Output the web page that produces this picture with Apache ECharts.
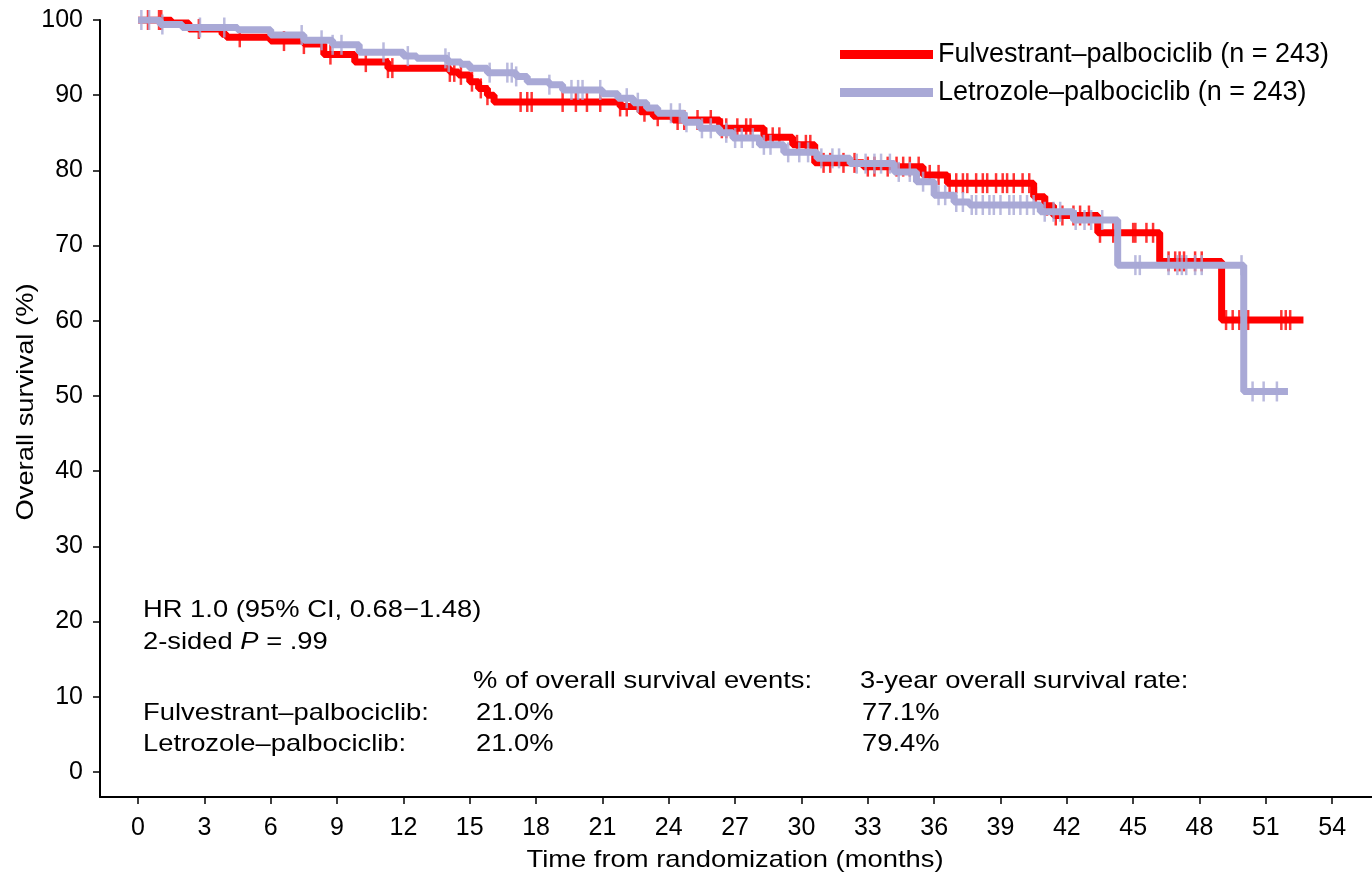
<!DOCTYPE html>
<html><head><meta charset="utf-8">
<script src="https://cdn.jsdelivr.net/npm/echarts@6/dist/echarts.min.js"></script>
<style>html,body{margin:0;padding:0;background:#fff}#c{width:1372px;height:884px}</style>
</head><body><div id="c"></div>
<script>
// ---- data ----
const xTicks = [0,3,6,9,12,15,18,21,24,27,30,33,36,39,42,45,48,51,54];
const yTicks = [0,10,20,30,40,50,60,70,80,90,100];
const fulName = 'Fulvestrant\u2013palbociclib (n = 243)';
const letName = 'Letrozole\u2013palbociclib (n = 243)';
// Kaplan-Meier steps (time in months, survival %)
const fulTimes = [0,1.5,2.3,3.8,4.0,6.0,7.5,8.4,9.8,11.3,14.1,14.5,15.0,15.4,15.8,16.1,21.8,22.7,23.3,24.2,26.3,28.3,29.6,30.6,32.8,35.5,36.6,40.5,41.0,41.4,43.4,46.2,49.0,52.7];
const fulSurv  = [100,99.6,98.8,98.1,97.7,97.2,96.8,95.4,94.4,93.6,93.1,92.7,91.8,90.9,90.0,89.1,88.5,87.8,87.2,86.7,85.6,84.4,83.4,81.0,80.5,79.4,78.3,76.5,75.3,74.0,71.7,67.9,60.1,60.1];
const letTimes = [0,1.0,2.0,4.5,6.0,7.5,8.8,10.0,12.0,12.6,14.0,14.6,15.0,15.8,17.1,17.6,18.6,19.2,21.0,21.7,22.4,23.0,23.5,24.7,25.4,26.3,26.9,28.1,29.2,30.7,32.2,34.2,35.2,36.0,36.9,37.6,40.8,42.3,44.3,50.0,52.0];
const letSurv  = [100,99.4,99.0,98.7,98.0,97.3,96.7,95.7,95.2,94.9,94.4,94.1,93.6,93.0,92.5,91.8,91.4,90.7,90.2,89.6,89.0,88.3,87.6,86.4,85.6,85.0,84.3,83.4,82.4,81.6,80.9,79.8,78.5,76.7,75.8,75.4,74.5,73.4,67.4,50.6,50.6];
// censoring times (months)
const fulCensor = [0.45,0.95,1.05,2.75,4.6,6.6,7.5,8.7,10.3,11.3,11.5,14.1,14.3,14.6,15.1,15.5,15.8,17.3,17.6,17.8,19.2,19.8,20.3,20.9,21.8,22.1,22.9,23.5,24.4,24.7,25.3,25.9,26.4,26.6,27.1,27.5,27.7,28.4,28.7,29.0,29.8,30.2,30.4,31.0,31.3,31.9,32.4,33.0,33.3,33.9,34.3,34.6,34.9,35.3,35.8,36.2,36.7,37.0,37.3,37.5,37.9,38.2,38.4,38.8,39.1,39.3,39.6,40.0,40.3,40.6,41.1,41.5,41.8,42.3,42.6,43.0,43.5,44.1,45.0,45.1,45.6,45.9,46.6,46.9,47.1,47.3,47.8,48.1,49.2,49.5,49.8,50.2,51.7,51.9,52.1];
const letCensor = [0.15,0.5,1.1,2.8,3.9,7.4,8.3,8.8,9.2,11.1,12.2,13.9,14.05,15.9,16.7,16.9,17.1,18.6,19.6,19.9,20.1,20.9,22.1,22.6,24.1,24.5,24.8,25.5,25.9,26.6,27.0,27.3,27.8,28.3,28.6,29.4,29.9,30.3,30.9,31.4,31.7,32.5,32.9,33.3,33.6,34.0,34.4,34.9,35.5,36.2,36.5,37.0,37.3,37.7,37.9,38.2,38.5,38.7,39.0,39.4,39.6,39.9,40.2,40.5,41.0,41.4,41.7,42.4,42.8,43.1,43.6,45.1,45.3,46.6,47.0,47.2,47.4,47.8,48.1,49.9,50.4,50.9,51.5];

// ---- helpers ----
function survAt(times, surv, t){ let v = surv[0]; for (let i=0;i<times.length;i++){ if (times[i] <= t) v = surv[i]; } return v; }
const FONT = "'Liberation Sans', Arial, Helvetica, sans-serif";
const RED = '#ff0000', LAV = '#a9a9d6';
const SX = 1.14;
function txt(x, y, text, extra){
  return Object.assign({ type:'text', x:x, y:y, scaleX:SX, silent:true,
    style:{ text:text, x:0, y:0, fill:'#000', font:'24px ' + FONT, textAlign:'left', textVerticalAlign:'middle', align:'left', verticalAlign:'middle' } }, extra||{});
}

const chart = echarts.init(document.getElementById('c'), null, {renderer:'canvas'});
chart.setOption({
  animation:false,
  backgroundColor:'#fff',
  grid:{ left:100, right:0, top:20, bottom:87, containLabel:false },
  xAxis:{ type:'value', min:-1.72, max:55.8,
    axisLine:{ show:true, onZero:false, lineStyle:{ color:'#000', width:2 } },
    axisTick:{ show:true, length:7, lineStyle:{ color:'#000', width:1.5 }, customValues:xTicks },
    axisLabel:{ customValues:xTicks, fontSize:25, fontFamily:FONT, color:'#000', margin:19 },
    splitLine:{ show:false } },
  yAxis:{ type:'value', min:-3.33, max:100,
    axisLine:{ show:true, onZero:false, lineStyle:{ color:'#000', width:2 } },
    axisTick:{ show:true, length:7, lineStyle:{ color:'#000', width:1.5 }, customValues:yTicks },
    axisLabel:{ customValues:yTicks, fontSize:25, fontFamily:FONT, color:'#000', margin:17 },
    splitLine:{ show:false } },
  legend:{ data:[fulName, letName], orient:'vertical', left:835, top:36, itemWidth:93, itemHeight:9, itemGap:11,
    icon:'rect', textStyle:{ fontSize:27, fontFamily:FONT, color:'#000' } },
  series:[
    { name:fulName, type:'line', step:'end', showSymbol:false, symbol:'none', z:2, color:RED,
      lineStyle:{ color:RED, width:7 }, data:fulTimes.map((t,i)=>[t, fulSurv[i]]) },
    { name:'fulCensor', type:'scatter', symbol:'rect', symbolSize:[2.5,20], z:3, silent:true,
      itemStyle:{ color:RED }, data:fulCensor.map(t=>[t, survAt(fulTimes, fulSurv, t)]) },
    { name:letName, type:'line', step:'end', showSymbol:false, symbol:'none', z:4, color:LAV,
      lineStyle:{ color:LAV, width:7 }, data:letTimes.map((t,i)=>[t, letSurv[i]]) },
    { name:'letCensor', type:'scatter', symbol:'rect', symbolSize:[2.5,20], z:5, silent:true,
      itemStyle:{ color:LAV }, data:letCensor.map(t=>[t, survAt(letTimes, letSurv, t)]) }
  ],
  graphic:[
    txt(143, 610, 'HR 1.0 (95% CI, 0.68\u22121.48)'),
    { type:'text', x:143, y:642, scaleX:SX, silent:true,
      style:{ text:'2-sided {i|P} = .99', x:0, y:0, fill:'#000', font:'24px ' + FONT, textAlign:'left', textVerticalAlign:'middle', align:'left', verticalAlign:'middle',
        rich:{ i:{ fontStyle:'italic', fontSize:24, fontFamily:FONT, fill:'#000' } } } },
    txt(473, 681, '% of overall survival events:'),
    txt(860, 681, '3-year overall survival rate:'),
    txt(143, 713, 'Fulvestrant\u2013palbociclib:'),
    txt(476, 713, '21.0%'),
    txt(862, 713, '77.1%'),
    txt(143, 744, 'Letrozole\u2013palbociclib:'),
    txt(476, 744, '21.0%'),
    txt(862, 744, '79.4%'),
    { type:'text', x:735, y:860, scaleX:SX, silent:true,
      style:{ text:'Time from randomization (months)', x:0, y:0, fill:'#000', font:'24px ' + FONT, textAlign:'center', textVerticalAlign:'middle', align:'center', verticalAlign:'middle' } },
    { type:'text', x:26, y:402, rotation:Math.PI/2, scaleX:SX, silent:true,
      style:{ text:'Overall survival (%)', x:0, y:0, fill:'#000', font:'24px ' + FONT, textAlign:'center', textVerticalAlign:'middle', align:'center', verticalAlign:'middle' } }
  ]
});
</script>
</body></html>
